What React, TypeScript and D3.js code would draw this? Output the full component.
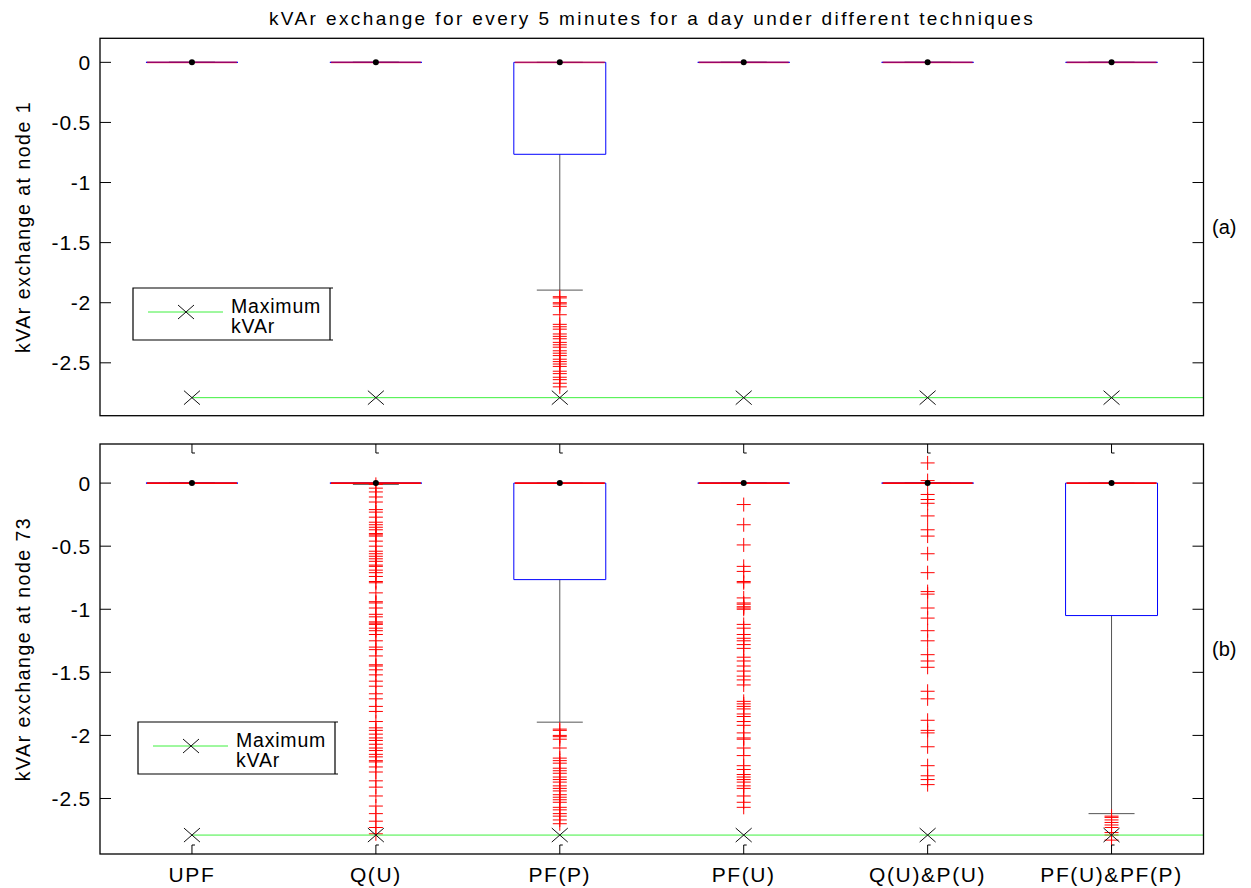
import React from "react";
import * as d3 from "d3";

// categories (techniques)
const categories = ["UPF", "Q(U)", "PF(P)", "PF(U)", "Q(U)&P(U)", "PF(U)&PF(P)"];
const yTicks = [0, -0.5, -1, -1.5, -2, -2.5];

// maximum kVAr reference line
const maxKvar = [-2.79, -2.79, -2.79, -2.79, -2.79, -2.79];

// node 1 box stats
const node1Q1 = [0, 0, -0.765, 0, 0, 0];
const node1Median = [0, 0, 0, 0, 0, 0];
const node1Q3 = [0, 0, 0, 0, 0, 0];
const node1WhiskerLow = [0, 0, -1.895, 0, 0, 0];
const node1WhiskerHigh = [0, 0, 0, 0, 0, 0];

// node 73 box stats
const node73Q1 = [0, 0, -0.765, 0, 0, -1.05];
const node73Median = [0, 0, 0, 0, 0, 0];
const node73Q3 = [0, 0, 0, 0, 0, 0];
const node73WhiskerLow = [0, -0.01, -1.895, 0, 0, -2.62];
const node73WhiskerHigh = [0, 0, 0, 0, 0, 0];

// outliers
const pfpOutliers = [
  -1.95, -1.96, -2.0, -2.01, -2.03, -2.1, -2.18, -2.2, -2.22, -2.26, -2.28, -2.3, -2.33, -2.35,
  -2.37, -2.4, -2.42, -2.44, -2.47, -2.49, -2.51, -2.53, -2.57, -2.59, -2.62, -2.64, -2.67, -2.7,
];
const quOutliers73 = [
  -0.01, -0.04, -0.07, -0.11, -0.15, -0.21, -0.23, -0.27, -0.31, -0.33, -0.35, -0.37, -0.4, -0.41,
  -0.42, -0.46, -0.5, -0.54, -0.56, -0.58, -0.6, -0.62, -0.65, -0.66, -0.69, -0.71, -0.74, -0.78,
  -0.79, -0.87, -0.94, -0.95, -0.99, -1.04, -1.06, -1.1, -1.11, -1.12, -1.15, -1.17, -1.2, -1.25,
  -1.3, -1.32, -1.37, -1.44, -1.45, -1.48, -1.52, -1.57, -1.61, -1.67, -1.71, -1.77, -1.81, -1.89,
  -1.94, -1.96, -1.99, -2.02, -2.04, -2.07, -2.1, -2.12, -2.15, -2.17, -2.2, -2.21, -2.25, -2.29,
  -2.36, -2.41, -2.48, -2.56, -2.62, -2.68, -2.73, -2.78,
];
const pfuOutliers73 = [
  -0.17, -0.33, -0.49, -0.66, -0.7, -0.78, -0.79, -0.91, -0.95, -0.96, -0.98, -0.99, -1.0, -1.12,
  -1.15, -1.2, -1.23, -1.25, -1.28, -1.31, -1.38, -1.41, -1.45, -1.49, -1.53, -1.56, -1.6, -1.73,
  -1.75, -1.77, -1.79, -1.83, -1.85, -1.89, -1.92, -1.98, -2.02, -2.03, -2.1, -2.16, -2.24, -2.27,
  -2.31, -2.33, -2.35, -2.37, -2.4, -2.42, -2.48, -2.53, -2.57,
];
const quPuOutliers73 = [
  0.16, 0.02, -0.09, -0.13, -0.16, -0.26, -0.37, -0.42, -0.56, -0.71, -0.86, -0.88, -0.99, -1.07,
  -1.17, -1.25, -1.36, -1.41, -1.46, -1.65, -1.71, -1.88, -1.96, -1.98, -2.09, -2.24, -2.32, -2.35,
  -2.39,
];
const pfuPfpOutliers73 = [-2.64, -2.65, -2.67, -2.69, -2.71, -2.73, -2.77, -2.79, -2.83];

const node1Outliers = [[], [], pfpOutliers, [], [], []];
const node73Outliers = [[], quOutliers73, pfpOutliers, pfuOutliers73, quPuOutliers73, pfuPfpOutliers73];

const FONT = "'Liberation Sans', Arial, sans-serif";
const PLOT_LEFT = 100;
const PLOT_RIGHT = 1203.5;
const GREEN = "#3ef03e";

interface PanelProps {
  top: number;
  bottom: number;
  domain: [number, number];
  q1: number[];
  med: number[];
  q3: number[];
  wLo: number[];
  wHi: number[];
  outliers: number[][];
  ylabel: string;
  tag: string;
  showX: boolean;
  legendX: number;
  legendY: number;
  medianOpacity: number;
}

const Panel: React.FC<PanelProps> = (p) => {
  const x = d3.scalePoint<string>().domain(categories).range([PLOT_LEFT, PLOT_RIGHT]).padding(0.5);
  const y = d3.scaleLinear().domain(p.domain).range([p.bottom, p.top]);
  const step = x.step();
  const boxW = step * 0.5;
  const capW = step * 0.25;

  const maxLine = d3
    .line<[number, number]>()
    .x((d) => d[0])
    .y((d) => d[1]);
  const maxPts: [number, number][] = categories.map((c, i) => [x(c)!, y(maxKvar[i])]);
  maxPts.push([PLOT_RIGHT, y(maxKvar[maxKvar.length - 1])]);

  const midY = (p.top + p.bottom) / 2;
  const lw = 197;
  const lh = 52;

  return (
    <g>
      {/* boxes */}
      {categories.map((c, i) => {
        const cx = x(c)!;
        const yq1 = y(p.q1[i]);
        const yq3 = y(p.q3[i]);
        const plus = p.outliers[i]
          .map((v) => `M${cx - 7},${y(v)}h14M${cx},${y(v) - 7}v14`)
          .join("");
        return (
          <g key={c}>
            <line x1={cx} x2={cx} y1={y(p.wHi[i])} y2={yq3} stroke="#555" />
            <line x1={cx} x2={cx} y1={yq1} y2={y(p.wLo[i])} stroke="#555" />
            <line x1={cx - capW / 2} x2={cx + capW / 2} y1={y(p.wLo[i])} y2={y(p.wLo[i])} stroke="#555" />
            <line x1={cx - capW / 2} x2={cx + capW / 2} y1={y(p.wHi[i])} y2={y(p.wHi[i])} stroke="#555" />
            <path
              d={`M${cx - boxW / 2},${yq3}H${cx + boxW / 2}V${yq1}H${cx - boxW / 2}Z`}
              fill="none"
              stroke="#0000ff"
            />
            <path d={plus} stroke="#ff0000" fill="none" />
            <line
              x1={cx - boxW / 2 + 1}
              x2={cx + boxW / 2 - 1}
              y1={y(p.med[i])}
              y2={y(p.med[i])}
              stroke="#ff0000"
              strokeOpacity={p.medianOpacity}
              strokeWidth={1.6}
            />
            <circle cx={cx} cy={y(p.med[i])} r={3} fill="#000" />
          </g>
        );
      })}

      {/* maximum kVAr line */}
      <path d={maxLine(maxPts)!} stroke={GREEN} fill="none" />
      {categories.map((c, i) => (
        <path
          key={"x" + c}
          transform={`translate(${x(c)},${y(maxKvar[i])})`}
          d="M-8,-7L8,7M-8,7L8,-7"
          stroke="#111"
          fill="none"
        />
      ))}

      {/* axes box */}
      <rect x={PLOT_LEFT} y={p.top} width={PLOT_RIGHT - PLOT_LEFT} height={p.bottom - p.top} fill="none" stroke="#000" strokeWidth={1.3} />
      {yTicks.map((t) => (
        <g key={"t" + t}>
          <line x1={PLOT_LEFT} x2={PLOT_LEFT + 11} y1={y(t)} y2={y(t)} stroke="#000" />
          <line x1={PLOT_RIGHT - 11} x2={PLOT_RIGHT} y1={y(t)} y2={y(t)} stroke="#000" />
          <text
            x={PLOT_LEFT - 9}
            y={y(t)}
            dy="0.36em"
            textAnchor="end"
            fontFamily={FONT}
            fontSize={21}
            letterSpacing={0.8}
          >
            {t === 0 ? "0" : String(t)}
          </text>
        </g>
      ))}
      {p.showX &&
        categories.map((c) => (
          <g key={"c" + c}>
            <path d={`M${x(c)},${p.top}v9h3`} stroke="#000" fill="none" />
            <path d={`M${x(c)},${p.bottom}v-9h3`} stroke="#000" fill="none" />
            <text
              x={x(c)}
              y={p.bottom + 28}
              textAnchor="middle"
              fontFamily={FONT}
              fontSize={21}
              letterSpacing={1.6}
            >
              {c}
            </text>
          </g>
        ))}

      {/* y label and tag */}
      <text
        transform={`translate(30,${midY}) rotate(-90)`}
        textAnchor="middle"
        fontFamily={FONT}
        fontSize={19.5}
        letterSpacing={1.5}
      >
        {p.ylabel}
      </text>
      <text x={1212} y={midY} dy="0.36em" fontFamily={FONT} fontSize={20}>
        {p.tag}
      </text>

      {/* legend */}
      <g transform={`translate(${p.legendX},${p.legendY})`}>
        <path d={`M${lw + 3},0H0V${lh}H${lw + 3}M${lw},0V${lh}`} stroke="#000" fill="none" strokeWidth={1.2} />
        <line x1={15} x2={90} y1={24} y2={24} stroke={GREEN} />
        <path d="M45,17L61,31M45,31L61,17" stroke="#111" fill="none" />
        <text x={98} y={25} fontFamily={FONT} fontSize={19.5} letterSpacing={0.8}>
          Maximum
        </text>
        <text x={98} y={45} fontFamily={FONT} fontSize={19.5} letterSpacing={0.8}>
          kVAr
        </text>
      </g>
    </g>
  );
};

const App: React.FC = () => {
  return (
    <svg width={1251} height={888} style={{ position: "absolute", left: 0, top: 0, background: "#fff" }}>
      <rect width={1251} height={888} fill="#fff" />
      <text x={652} y={25} textAnchor="middle" fontFamily={FONT} fontSize={19} letterSpacing={2.4}>
        kVAr exchange for every 5 minutes for a day under different techniques
      </text>
      <Panel
        top={38.3}
        bottom={415.7}
        domain={[-2.94, 0.2]}
        q1={node1Q1}
        med={node1Median}
        q3={node1Q3}
        wLo={node1WhiskerLow}
        wHi={node1WhiskerHigh}
        outliers={node1Outliers}
        ylabel="kVAr exchange at node 1"
        tag="(a)"
        showX={false}
        legendX={133}
        legendY={288}
        medianOpacity={0.6}
      />
      <Panel
        top={444}
        bottom={854}
        domain={[-2.94, 0.31]}
        q1={node73Q1}
        med={node73Median}
        q3={node73Q3}
        wLo={node73WhiskerLow}
        wHi={node73WhiskerHigh}
        outliers={node73Outliers}
        ylabel="kVAr exchange at node 73"
        tag="(b)"
        showX={true}
        legendX={138}
        legendY={722}
        medianOpacity={1}
      />
    </svg>
  );
};

export default App;
